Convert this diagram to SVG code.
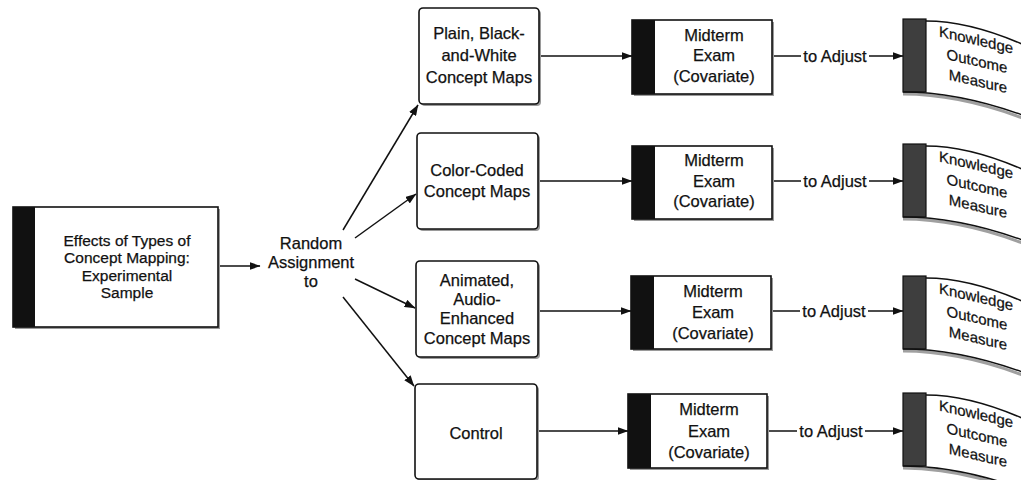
<svg xmlns="http://www.w3.org/2000/svg" width="1021" height="480" viewBox="0 0 1021 480">
  <defs>
    <style>
      .t{font-family:"Liberation Sans",Arial,sans-serif;font-size:16.5px;fill:#111;stroke:#111;stroke-width:0.25;text-anchor:middle}
      .s{font-size:15.5px}
      .m{font-size:16.5px}
      .k{font-size:15px}
      .box{fill:#fff;stroke:#111;stroke-width:1.6}
      .shadow{fill:#9a9a9a}
      .bar{fill:#111}
      .kbar{fill:#3e3e3e;stroke:#111;stroke-width:1.2}
      .edge{fill:none;stroke:#111;stroke-width:1.5}
      .conn{fill:none;stroke:#111;stroke-width:1.5}
      .arr{marker-end:url(#ah)}
    </style>
    <marker id="ah" markerWidth="11" markerHeight="8" refX="10.5" refY="4" orient="auto" markerUnits="userSpaceOnUse">
      <path d="M0,0 L11,4 L0,8 z" fill="#111"/>
    </marker>
    <!-- curved outcome banner, origin at its top-left corner -->
    <g id="outcome">
      <path d="M0,75 Q60,75 130,103" fill="none" stroke="#a0a0a0" stroke-width="3"/>
      <path d="M23,2 Q70,2 130,30 L130,100 Q60,73 0,73 L0,0 Z" fill="#fff"/>
      <rect class="kbar" x="0" y="0" width="23" height="73"/>
      <path class="edge" d="M23,2 Q70,2 130,30"/>
      <path class="edge" d="M0,73 Q60,73 130,100"/>
    </g>
  </defs>

  <!-- connectors -->
  <g id="connectors">
    <path class="conn arr" d="M218,266 L260,266"/>
    <path class="conn arr" d="M343,230 L418,105"/>
    <path class="conn arr" d="M355,238 L416,194"/>
    <path class="conn arr" d="M355,279 L415,308"/>
    <path class="conn arr" d="M343,297 L414,386"/>

    <path class="conn arr" d="M539,56 L632,56"/>
    <path class="conn arr" d="M538,181 L632,181"/>
    <path class="conn arr" d="M538,311 L631,311"/>
    <path class="conn arr" d="M537,431 L628,431"/>

    <path class="conn" d="M772,56 L801,56"/>
    <path class="conn arr" d="M869,56 L903,56"/>
    <path class="conn" d="M772,181 L801,181"/>
    <path class="conn arr" d="M869,181 L903,181"/>
    <path class="conn" d="M771,311 L800,311"/>
    <path class="conn arr" d="M868,311 L903,311"/>
    <path class="conn" d="M767,431 L797,431"/>
    <path class="conn arr" d="M865,431 L903,431"/>

    <text class="t m" x="835" y="62">to Adjust</text>
    <text class="t m" x="835" y="187">to Adjust</text>
    <text class="t m" x="834" y="317">to Adjust</text>
    <text class="t m" x="831" y="437">to Adjust</text>
  </g>

  <!-- sample -->
  <g id="sample">
    <rect class="shadow" x="15" y="209" width="205" height="120"/>
    <rect class="box" x="13" y="207" width="205" height="120"/>
    <rect class="bar" x="13" y="207" width="22" height="120"/>
    <text class="t s" x="127" y="246">Effects of Types of</text>
    <text class="t s" x="127" y="263">Concept Mapping:</text>
    <text class="t s" x="127" y="281">Experimental</text>
    <text class="t s" x="127" y="298">Sample</text>
  </g>

  <g id="assignment">
    <text class="t" x="311" y="249">Random</text>
    <text class="t" x="311" y="268">Assignment</text>
    <text class="t" x="311" y="287">to</text>
  </g>

  <!-- treatment groups -->
  <g id="plain">
    <rect class="shadow" x="421" y="10" width="120" height="96" rx="4"/>
    <rect class="box" x="419" y="8" width="120" height="96" rx="4"/>
    <text class="t" x="479" y="39">Plain, Black-</text>
    <text class="t" x="479" y="61">and-White</text>
    <text class="t" x="479" y="83">Concept Maps</text>
  </g>
  <g id="colorcoded">
    <rect class="shadow" x="419" y="135" width="121" height="96" rx="4"/>
    <rect class="box" x="417" y="133" width="121" height="96" rx="4"/>
    <text class="t" x="477" y="176">Color-Coded</text>
    <text class="t" x="477" y="197">Concept Maps</text>
  </g>
  <g id="animated">
    <rect class="shadow" x="418" y="263" width="122" height="96" rx="4"/>
    <rect class="box" x="416" y="261" width="122" height="96" rx="4"/>
    <text class="t" x="477" y="286">Animated,</text>
    <text class="t" x="477" y="305">Audio-</text>
    <text class="t" x="477" y="324">Enhanced</text>
    <text class="t" x="477" y="344">Concept Maps</text>
  </g>
  <g id="control">
    <rect class="shadow" x="417" y="386" width="122" height="95" rx="4"/>
    <rect class="box" x="415" y="384" width="122" height="95" rx="4"/>
    <text class="t" x="476" y="439">Control</text>
  </g>

  <!-- midterm covariate -->
  <g id="midterm1">
    <rect class="shadow" x="634" y="22" width="140" height="74"/>
    <rect class="box" x="632" y="20" width="140" height="74"/>
    <rect class="bar" x="632" y="20" width="23" height="74"/>
    <text class="t m" x="714" y="41">Midterm</text>
    <text class="t m" x="714" y="61">Exam</text>
    <text class="t m" x="714" y="82">(Covariate)</text>
  </g>
  <g id="midterm2">
    <rect class="shadow" x="634" y="148" width="140" height="73"/>
    <rect class="box" x="632" y="146" width="140" height="73"/>
    <rect class="bar" x="632" y="146" width="23" height="73"/>
    <text class="t m" x="714" y="166">Midterm</text>
    <text class="t m" x="714" y="187">Exam</text>
    <text class="t m" x="714" y="207">(Covariate)</text>
  </g>
  <g id="midterm3">
    <rect class="shadow" x="633" y="278" width="140" height="73"/>
    <rect class="box" x="631" y="276" width="140" height="73"/>
    <rect class="bar" x="631" y="276" width="23" height="73"/>
    <text class="t m" x="713" y="297">Midterm</text>
    <text class="t m" x="713" y="318">Exam</text>
    <text class="t m" x="713" y="339">(Covariate)</text>
  </g>
  <g id="midterm4">
    <rect class="shadow" x="630" y="396" width="139" height="74"/>
    <rect class="box" x="628" y="394" width="139" height="74"/>
    <rect class="bar" x="628" y="394" width="23" height="74"/>
    <text class="t m" x="709" y="415">Midterm</text>
    <text class="t m" x="709" y="437">Exam</text>
    <text class="t m" x="709" y="458">(Covariate)</text>
  </g>

  <!-- knowledge outcome -->
  <g id="outcome1">
    <use href="#outcome" x="903" y="19"/>
    <g transform="translate(976,62) skewY(13)">
      <text class="t k" x="0" y="-17">Knowledge</text>
      <text class="t k" x="1" y="4">Outcome</text>
      <text class="t k" x="2" y="24">Measure</text>
    </g>
  </g>
  <g id="outcome2">
    <use href="#outcome" x="903" y="144"/>
    <g transform="translate(976,187) skewY(13)">
      <text class="t k" x="0" y="-17">Knowledge</text>
      <text class="t k" x="1" y="4">Outcome</text>
      <text class="t k" x="2" y="24">Measure</text>
    </g>
  </g>
  <g id="outcome3">
    <use href="#outcome" x="903" y="276"/>
    <g transform="translate(976,319) skewY(13)">
      <text class="t k" x="0" y="-17">Knowledge</text>
      <text class="t k" x="1" y="4">Outcome</text>
      <text class="t k" x="2" y="24">Measure</text>
    </g>
  </g>
  <g id="outcome4">
    <use href="#outcome" x="903" y="393"/>
    <g transform="translate(976,436) skewY(13)">
      <text class="t k" x="0" y="-17">Knowledge</text>
      <text class="t k" x="1" y="4">Outcome</text>
      <text class="t k" x="2" y="24">Measure</text>
    </g>
  </g>
</svg>
